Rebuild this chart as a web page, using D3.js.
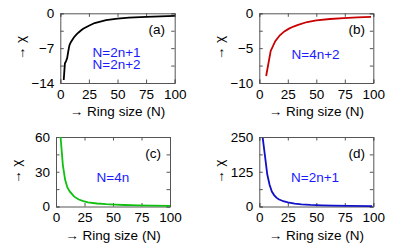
<!DOCTYPE html>
<html>
<head>
<meta charset="utf-8">
<script src="https://cdn.jsdelivr.net/npm/d3@7"></script>
<style>
  body { margin: 0; background: #fff; }
  text { font-family: "Liberation Sans", Arial, sans-serif; }
</style>
</head>
<body>
<div id="chart"></div>
<script>
// chi vs ring size
var nA   = [3, 4, 5, 6, 7, 8, 9, 10, 12, 14, 16, 18, 20, 25, 30, 40, 50, 60, 75, 100];
var chiA = [-13.4, -10.1, -9.6, -9.0, -7.6, -6.4, -5.9, -5.5, -4.8, -4.3, -3.85, -3.45, -3.1, -2.5, -1.95, -1.35, -1.05, -0.88, -0.7, -0.5];

var nB   = [6, 10, 14, 18, 22, 26, 30, 34, 42, 50, 62, 74, 86, 98];
var chiB = [-9.0, -5.4, -4.0, -3.15, -2.6, -2.2, -1.9, -1.65, -1.25, -1.0, -0.82, -0.68, -0.58, -0.5];

var nC   = [4, 6, 8, 10, 12, 16, 20, 24, 28, 36, 44, 52, 60, 72, 84, 100];
var chiC = [60, 36, 23, 16.5, 13, 8.5, 6, 4.6, 3.6, 2.6, 2.0, 1.6, 1.3, 1.0, 0.8, 0.6];

var nD   = [3, 5, 7, 9, 11, 13, 15, 17, 21, 25, 31, 37, 45, 55, 65, 79, 99];
var chiD = [247, 181, 115, 78, 54, 41, 32, 26, 19, 15, 10.5, 7.5, 5.5, 4, 3, 2.2, 1.5];

var xTicks = [0, 25, 50, 75, 100];
var yTicksA = [0, -7, -14];
var yTicksB = [0, -5, -10];
var yTicksC = [0, 30, 60];
var yTicksD = [0, 125, 250];

var width = 400,
    height = 247;

var svg = d3.select("#chart").append("svg")
    .attr("width", width)
    .attr("height", height);

var panels = [
  {n: nA, chi: chiA, yt: yTicksA, color: "#000000", tag: "(a)", notes: ["N=2n+1", "N=2n+2"],
   x0: 60.3, x1: 174.7, y0: 13.3, y1: 83, tagX: 165, tagY: 34, noteX: 92.5, noteY: 57.3},
  {n: nB, chi: chiB, yt: yTicksB, color: "#c80000", tag: "(b)", notes: ["N=4n+2"],
   x0: 259.3, x1: 373.3, y0: 13.3, y1: 83, tagX: 365, tagY: 34, noteX: 291.5, noteY: 58.5},
  {n: nC, chi: chiC, yt: yTicksC, color: "#10c010", tag: "(c)", notes: ["N=4n"],
   x0: 56, x1: 170, y0: 137, y1: 206.5, tagX: 161, tagY: 157.5, noteX: 96.5, noteY: 182},
  {n: nD, chi: chiD, yt: yTicksD, color: "#1010c8", tag: "(d)", notes: ["N=2n+1"],
   x0: 259.3, x1: 373.3, y0: 137, y1: 206.5, tagX: 365, tagY: 157.5, noteX: 291, noteY: 182}
];

panels.forEach(function(p) {
  var x = d3.scaleLinear().domain([0, 100]).range([p.x0, p.x1]);
  var y = d3.scaleLinear().domain(d3.extent(p.yt)).range([p.y1, p.y0]);
  var g = svg.append("g");

  var step = (p.yt[1] - p.yt[0]) / 2;
  var minor = d3.range(0, 5).map(function(i) { return p.yt[0] + i * step; });

  // axes, ticks pointing inward like gnuplot
  g.append("g").attr("transform", "translate(0," + p.y1 + ")")
    .call(d3.axisBottom(x).tickValues(xTicks).tickSize(-3.5).tickPadding(6));
  g.append("g").attr("transform", "translate(0," + p.y0 + ")")
    .call(d3.axisTop(x).tickValues(xTicks).tickSize(-3.5).tickFormat(""));
  g.append("g").attr("transform", "translate(" + p.x0 + ",0)")
    .call(d3.axisLeft(y).tickValues(minor).tickSize(-3.5).tickPadding(6)
      .tickFormat(function(d) { return p.yt.indexOf(d) >= 0 ? d3.format("")(d).replace("-", "\u2212") : ""; }));
  g.append("g").attr("transform", "translate(" + p.x1 + ",0)")
    .call(d3.axisRight(y).tickValues(minor).tickSize(-3.5).tickFormat(""));

  g.selectAll(".domain").attr("stroke", "#555");
  g.selectAll(".tick line").attr("stroke", "#555");
  g.selectAll(".tick text").attr("fill", "#000")
    .style("font-size", "13.5px").style("font-family", "Liberation Sans, Arial, sans-serif");

  var line = d3.line()
    .x(function(d, i) { return x(p.n[i]); })
    .y(function(d) { return y(d); });

  g.append("path")
    .attr("d", line(p.chi))
    .attr("fill", "none")
    .attr("stroke", p.color)
    .attr("stroke-width", 1.8);

  g.append("text")
    .attr("x", p.tagX).attr("y", p.tagY)
    .attr("text-anchor", "end")
    .style("font-size", "13.5px")
    .text(p.tag);

  // the N= notes, stacked lines inside one text
  var note = g.append("text")
    .attr("x", p.noteX).attr("y", p.noteY)
    .attr("fill", "#1a1aff")
    .style("font-size", "13.5px");
  p.notes.forEach(function(t, i) {
    note.append("tspan")
      .attr("x", p.noteX)
      .attr("dy", i == 0 ? 0 : 11.7)
      .text(t);
  });

  g.append("text")
    .attr("x", (p.x0 + p.x1) / 2).attr("y", p.y1 + 33)
    .attr("text-anchor", "middle")
    .style("font-size", "13.5px")
    .text("\u2192 Ring size (N)");

  g.append("text")
    .attr("transform", "translate(" + (p.x0 - 35) + "," + ((p.y0 + p.y1) / 2) + ") rotate(-90)")
    .attr("text-anchor", "middle")
    .style("font-size", "13.5px")
    .text("\u2192 \u03c7");
});
</script>
</body>
</html>
